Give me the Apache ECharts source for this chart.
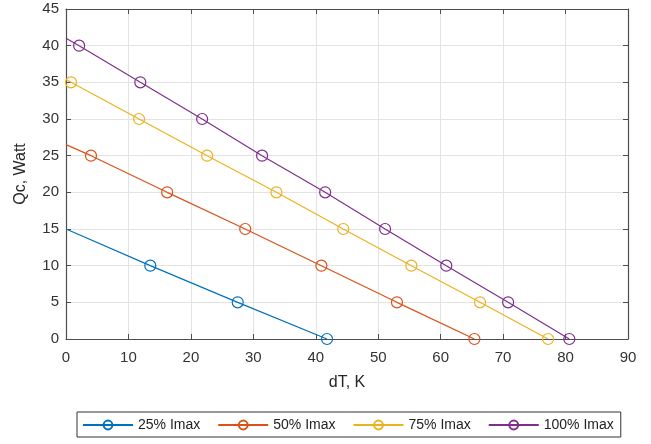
<!DOCTYPE html>
<html>
<head>
<meta charset="utf-8">
<script src="https://cdn.jsdelivr.net/npm/echarts@6/dist/echarts.min.js"></script>
<style>
html,body{margin:0;padding:0;background:#fff;}
#chart{width:651px;height:444px;}
</style>
</head>
<body>
<div id="chart"></div>
<script>
// Data
var seriesNames = ['25% Imax', '50% Imax', '75% Imax', '100% Imax'];
var dT25  = [0, 13.5, 27.5, 41.8];
var Qc25  = [15, 10, 5, 0];
var dT50  = [0, 4.0, 16.2, 28.7, 40.9, 53.0, 65.4];
var Qc50  = [26.5, 25, 20, 15, 10, 5, 0];
var dT75  = [0, 0.8, 11.7, 22.6, 33.7, 44.4, 55.3, 66.3, 77.2];
var Qc75  = [35.4, 35, 30, 25, 20, 15, 10, 5, 0];
var dT100 = [0, 2.1, 11.9, 21.8, 31.4, 41.5, 51.1, 60.9, 70.8, 80.6];
var Qc100 = [41, 40, 35, 30, 25, 20, 15, 10, 5, 0];
var xTicks = [0, 10, 20, 30, 40, 50, 60, 70, 80, 90];
var yTicks = [0, 5, 10, 15, 20, 25, 30, 35, 40, 45];

var colors = ['#0072BD', '#D95319', '#EDB120', '#7E2F8E'];
var dTs = [dT25, dT50, dT75, dT100];
var Qcs = [Qc25, Qc50, Qc75, Qc100];

var font = 'Liberation Sans, Arial, sans-serif';
var axisColor = '#4d4d4d';

function buildData(xs, ys) {
  return xs.map(function (x, i) {
    var item = { value: [x, ys[i]] };
    if (i === 0) item.symbol = 'none';
    return item;
  });
}

var series = seriesNames.map(function (name, k) {
  return {
    name: name,
    type: 'line',
    data: buildData(dTs[k], Qcs[k]),
    symbol: 'circle',
    symbolSize: 11,
    showAllSymbol: true,
    lineStyle: { color: colors[k], width: 1.2 },
    itemStyle: { color: 'rgba(255,255,255,0)', borderColor: colors[k], borderWidth: 1.2 },
    emphasis: { disabled: true },
    animation: false
  };
});

var chart = echarts.init(document.getElementById('chart'), null, { renderer: 'canvas' });
chart.setOption({
  backgroundColor: '#fff',
  color: colors,
  animation: false,
  grid: { left: 66, right: 23, top: 9, bottom: 105, containLabel: false },
  legend: {
    data: seriesNames,
    left: 77,
    top: 412,
    padding: [6, 7, 5, 5],
    itemGap: 17,
    itemWidth: 50,
    itemHeight: 11,
    borderColor: '#333',
    borderWidth: 1,
    textStyle: { fontFamily: font, fontSize: 14, color: '#222' },
    selectedMode: false
  },
  xAxis: [{
    type: 'value',
    min: 0, max: 90, interval: 10,
    name: 'dT, K',
    nameLocation: 'middle',
    nameGap: 36,
    nameTextStyle: { fontFamily: font, fontSize: 16, color: '#262626' },
    axisLine: { show: true, onZero: false, lineStyle: { color: axisColor, width: 1.2 } },
    axisTick: { show: true, inside: true, length: 5, lineStyle: { color: axisColor } },
    axisLabel: { fontFamily: font, fontSize: 15, color: '#333', margin: 11 },
    splitLine: { show: true, lineStyle: { color: '#e3e3e3', width: 1 } }
  }, {
    type: 'value', position: 'top',
    min: 0, max: 90, interval: 10,
    axisLine: { show: true, onZero: false, lineStyle: { color: axisColor, width: 1.2 } },
    axisTick: { show: true, inside: true, length: 5, lineStyle: { color: axisColor } },
    axisLabel: { show: false },
    splitLine: { show: false }
  }],
  yAxis: [{
    type: 'value',
    min: 0, max: 45, interval: 5,
    name: 'Qc, Watt',
    nameLocation: 'middle',
    nameGap: 37,
    nameRotate: 90,
    nameTextStyle: { fontFamily: font, fontSize: 16, color: '#262626' },
    axisLine: { show: true, onZero: false, lineStyle: { color: axisColor, width: 1.2 } },
    axisTick: { show: true, inside: true, length: 5, lineStyle: { color: axisColor } },
    axisLabel: { fontFamily: font, fontSize: 15, color: '#333', margin: 7 },
    splitLine: { show: true, lineStyle: { color: '#e3e3e3', width: 1 } }
  }, {
    type: 'value', position: 'right',
    min: 0, max: 45, interval: 5,
    axisLine: { show: true, onZero: false, lineStyle: { color: axisColor, width: 1.2 } },
    axisTick: { show: true, inside: true, length: 5, lineStyle: { color: axisColor } },
    axisLabel: { show: false },
    splitLine: { show: false }
  }],
  series: series
});
</script>
</body>
</html>
